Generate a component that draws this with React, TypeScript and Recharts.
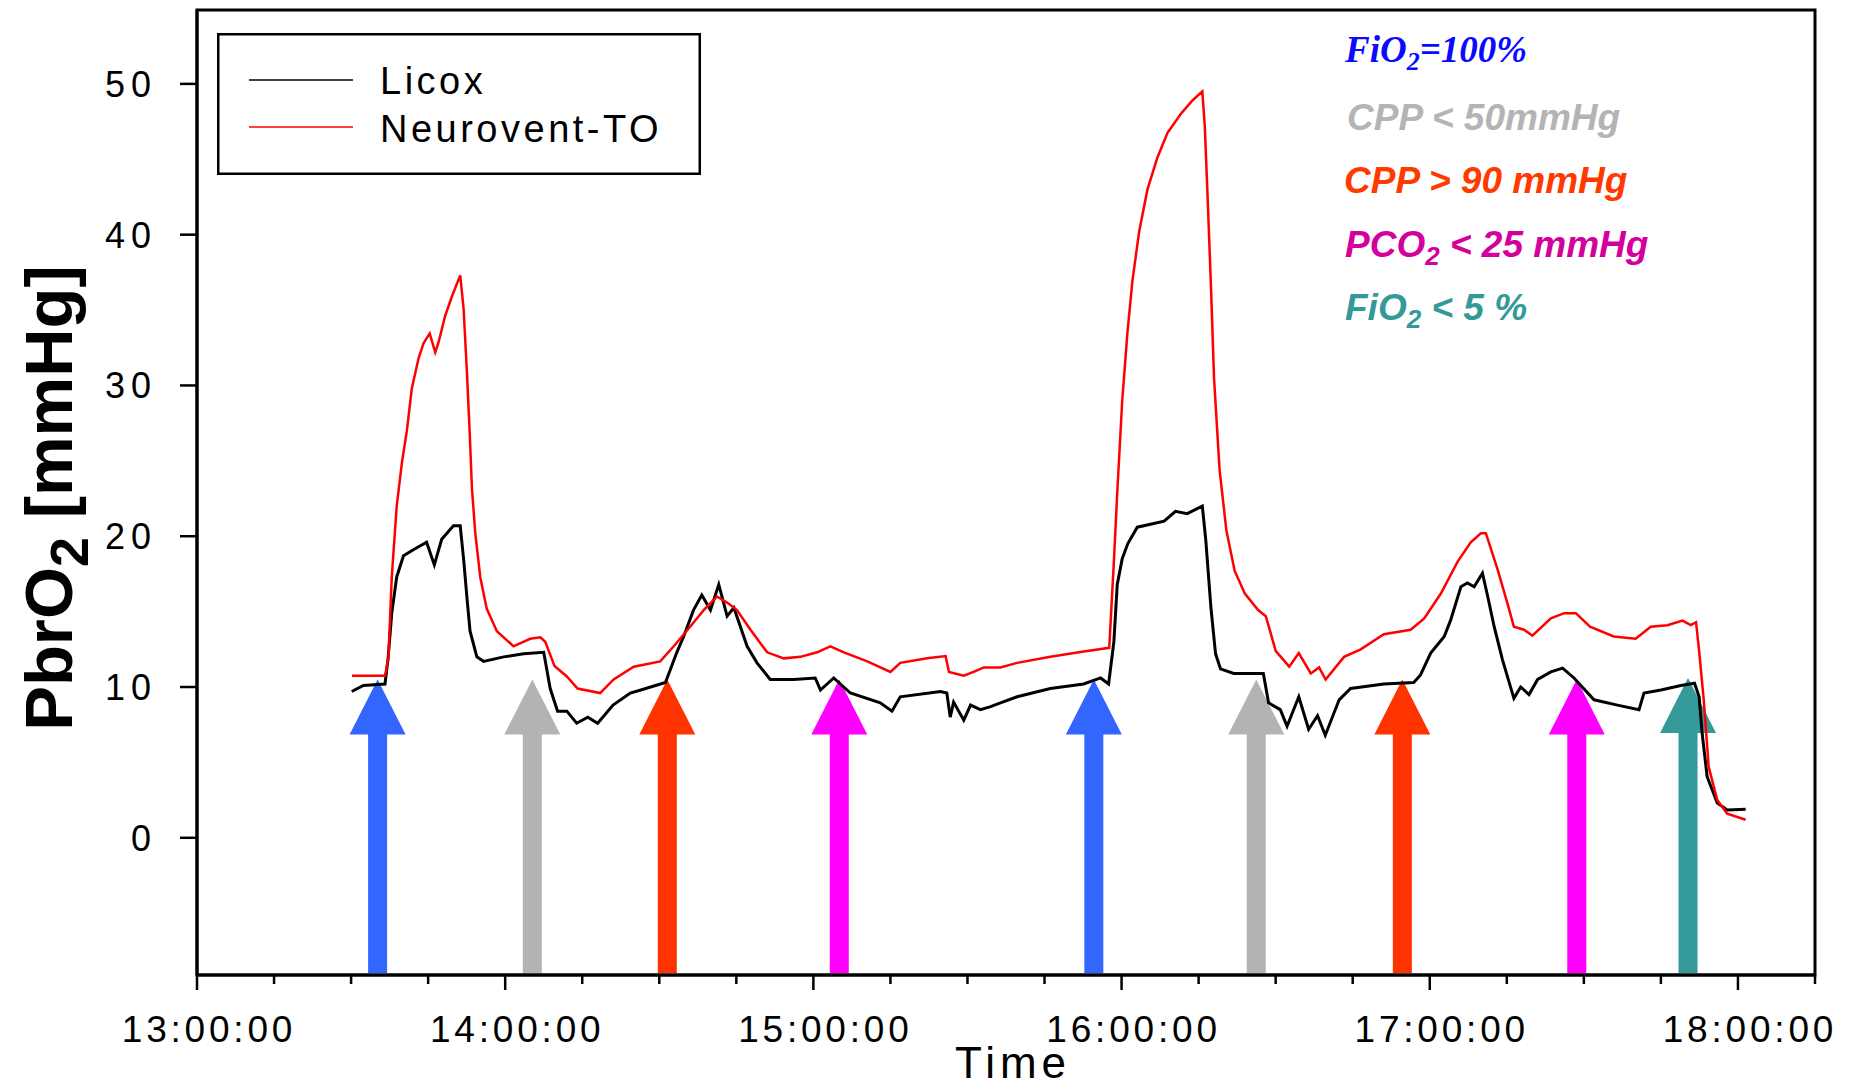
import React from "react";
import { LineChart, Line, XAxis, YAxis, ReferenceLine, ReferenceArea, Legend } from "recharts";

// PbrO2: Licox vs Neurovent-TO, with provocation arrows.
// time = decimal hours (13.5 = 13:30:00), values in mmHg

const licoxTime = [
  13.502, 13.54, 13.61, 13.62, 13.632, 13.648, 13.67, 13.702, 13.745, 13.77, 13.794, 13.832, 13.854, 13.865,
  13.876, 13.886, 13.908, 13.93, 13.995, 14.06, 14.125, 14.146, 14.17, 14.2, 14.232, 14.268, 14.3, 14.35,
  14.406, 14.44, 14.52, 14.557, 14.579, 14.611, 14.638, 14.666, 14.693, 14.72, 14.742, 14.785, 14.817, 14.86,
  14.936, 15.006, 15.023, 15.066, 15.12, 15.217, 15.255, 15.282, 15.412, 15.433, 15.444, 15.455, 15.488, 15.51,
  15.542, 15.575, 15.607, 15.661, 15.769, 15.877, 15.932, 15.958, 15.975, 15.986, 16.002, 16.02, 16.051, 16.094,
  16.138, 16.175, 16.213, 16.262, 16.273, 16.29, 16.305, 16.321, 16.364, 16.46, 16.477, 16.515, 16.537, 16.575,
  16.607, 16.636, 16.661, 16.706, 16.743, 16.851, 16.948, 16.97, 17.003, 17.047, 17.068, 17.101, 17.122, 17.144,
  17.171, 17.187, 17.209, 17.236, 17.273, 17.295, 17.322, 17.35, 17.393, 17.431, 17.468, 17.533, 17.609, 17.679,
  17.695, 17.75, 17.815, 17.859, 17.874, 17.884, 17.9, 17.933, 17.965, 18.025,
];
const licoxValue = [
  9.7, 10.1, 10.2, 11.9, 14.9, 17.3, 18.7, 19.1, 19.6, 18.1, 19.8, 20.7, 20.7, 18.5,
  15.9, 13.7, 12.0, 11.7, 12.0, 12.2, 12.3, 9.9, 8.4, 8.4, 7.6, 8.0, 7.6, 8.8,
  9.6, 9.8, 10.3, 12.3, 13.35, 15.1, 16.1, 15.1, 16.8, 14.7, 15.25, 12.7, 11.6, 10.5,
  10.5, 10.6, 9.8, 10.6, 9.6, 8.95, 8.4, 9.35, 9.7, 9.6, 8.0, 9.0, 7.8, 8.8,
  8.5, 8.7, 8.95, 9.35, 9.9, 10.2, 10.6, 10.2, 13.0, 16.8, 18.5, 19.5, 20.6, 20.8,
  21.0, 21.65, 21.5, 22.0, 19.8, 15.25, 12.2, 11.2, 10.9, 10.9, 8.95, 8.5, 7.4, 9.35,
  7.2, 8.1, 6.8, 9.15, 9.9, 10.2, 10.3, 10.8, 12.25, 13.35, 14.45, 16.65, 16.9, 16.65,
  17.55, 16.1, 14.0, 11.8, 9.25, 10.0, 9.5, 10.5, 11.0, 11.25, 10.6, 9.15, 8.8, 8.5,
  9.6, 9.8, 10.1, 10.25, 9.35, 6.9, 4.05, 2.3, 1.85, 1.9,
];

const neuroTime = [
  13.503, 13.61, 13.621, 13.632, 13.648, 13.665, 13.681, 13.697, 13.719, 13.735, 13.755, 13.773, 13.783, 13.805,
  13.827, 13.854, 13.865, 13.876, 13.885, 13.892, 13.903, 13.919, 13.94, 13.973, 14.027, 14.081, 14.114, 14.13,
  14.16, 14.2, 14.235, 14.308, 14.352, 14.417, 14.503, 14.547, 14.6, 14.644, 14.687, 14.72, 14.752, 14.796,
  14.85, 14.904, 14.958, 15.012, 15.055, 15.099, 15.175, 15.25, 15.282, 15.369, 15.429, 15.44, 15.488, 15.52,
  15.553, 15.607, 15.661, 15.769, 15.877, 15.96, 15.975, 15.986, 16.002, 16.019, 16.035, 16.057, 16.084, 16.116,
  16.149, 16.192, 16.23, 16.262, 16.27, 16.279, 16.29, 16.3, 16.318, 16.34, 16.367, 16.4, 16.443, 16.468,
  16.5, 16.544, 16.575, 16.614, 16.641, 16.662, 16.722, 16.776, 16.851, 16.938, 16.982, 17.036, 17.09, 17.133,
  17.166, 17.182, 17.22, 17.252, 17.273, 17.306, 17.333, 17.393, 17.436, 17.474, 17.52, 17.597, 17.668, 17.717,
  17.771, 17.82, 17.847, 17.864, 17.874, 17.889, 17.905, 17.933, 17.965, 18.025,
];
const neuroValue = [
  10.75, 10.75, 11.9, 17.3, 22.0, 24.9, 27.0, 29.8, 31.8, 32.8, 33.45, 32.2, 32.8, 34.6,
  35.9, 37.3, 35.1, 30.8, 26.8, 23.2, 20.2, 17.3, 15.2, 13.7, 12.7, 13.2, 13.3, 13.0,
  11.4, 10.7, 9.9, 9.6, 10.5, 11.35, 11.7, 12.7, 14.0, 15.1, 16.0, 15.6, 15.1, 13.8,
  12.3, 11.9, 12.0, 12.3, 12.7, 12.3, 11.7, 11.0, 11.6, 11.9, 12.05, 11.0, 10.75, 11.0,
  11.3, 11.3, 11.6, 12.0, 12.35, 12.6, 18.3, 22.9, 28.95, 33.5, 36.9, 40.2, 43.0, 45.1,
  46.75, 48.0, 48.9, 49.5, 47.2, 42.6, 36.6, 30.5, 24.4, 20.4, 17.7, 16.2, 15.1, 14.7,
  12.4, 11.35, 12.25, 10.9, 11.3, 10.5, 12.0, 12.5, 13.5, 13.8, 14.55, 16.2, 18.3, 19.6,
  20.2, 20.2, 17.8, 15.55, 14.0, 13.8, 13.4, 14.55, 14.9, 14.9, 14.0, 13.35, 13.2, 14.0,
  14.1, 14.4, 14.1, 14.3, 12.4, 9.15, 4.7, 2.5, 1.6, 1.2,
];

// interventions (arrow positions)
const eventTime = [13.586, 14.088, 14.526, 15.084, 15.91, 16.437, 16.911, 17.477, 17.838];
const eventKind = ["fio2High", "cppLow", "cppHigh", "pco2Low", "fio2High", "cppLow", "cppHigh", "pco2Low", "fio2Low"];
const eventTip = [10.5, 10.5, 10.5, 10.5, 10.5, 10.5, 10.5, 10.5, 10.6];

const xTicks = [
  13, 13.25, 13.5, 13.75, 14, 14.25, 14.5, 14.75, 15, 15.25, 15.5, 15.75,
  16, 16.25, 16.5, 16.75, 17, 17.25, 17.5, 17.75, 18, 18.25,
];
const yTicks = [0, 10, 20, 30, 40, 50];
const X_MIN = 13;
const X_MAX = 18.25;
const Y_MIN = -9.1;
const Y_MAX = 54.9;

const arrowColor: Record<string, string> = {
  fio2High: "#3366ff",
  cppLow: "#b3b3b3",
  cppHigh: "#ff3300",
  pco2Low: "#ff00ff",
  fio2Low: "#339999",
};

const FONT = "'Liberation Sans', Arial, Helvetica, sans-serif";
const SERIF = "'Liberation Serif', 'Times New Roman', serif";

const licoxData = licoxTime.map((t, i) => ({ t, v: licoxValue[i] }));
const neuroData = neuroTime.map((t, i) => ({ t, v: neuroValue[i] }));

function XTick({ x, y, payload }: any) {
  const major = Number.isInteger(payload.value);
  return (
    <g>
      <line x1={x} x2={x} y1={y} y2={y + (major ? 15 : 9)} stroke="#000" strokeWidth={2.5} />
      {major && (
        <text x={x + 12} y={y + 67} textAnchor="middle" fontFamily={FONT} fontSize={37} letterSpacing={3.8} fill="#000">
          {`${payload.value}:00:00`}
        </text>
      )}
    </g>
  );
}

function YTick({ x, y, payload }: any) {
  return (
    <g>
      <line x1={x - 17} x2={x} y1={y} y2={y} stroke="#000" strokeWidth={2.5} />
      <text x={x - 40} y={y + 13} textAnchor="end" fontFamily={FONT} fontSize={36} letterSpacing={6} fill="#000">
        {payload.value}
      </text>
    </g>
  );
}

function arrowShape(color: string) {
  return (p: any) => {
    const { x1, y1, y2 } = p;
    const head = 55;
    return (
      <g>
        <rect x={x1 - 9.5} y={y2 + head - 1} width={19} height={y1 - y2 - head - 1} fill={color} />
        <polygon points={`${x1},${y2} ${x1 - 28},${y2 + head} ${x1 + 28},${y2 + head}`} fill={color} />
      </g>
    );
  };
}

function LegendBox({ payload }: any) {
  const items = (payload || []).filter((e: any) => e.value);
  return (
    <svg width={484} height={142} style={{ display: "block" }}>
      <rect x={1.25} y={1.25} width={481.5} height={139.5} fill="#fff" stroke="#000" strokeWidth={2.5} />
      {items.map((e: any, i: number) => (
        <g key={e.value}>
          <line x1={32} x2={136} y1={47 + i * 47} y2={47 + i * 47} stroke={e.color} strokeWidth={1.5} />
          <text x={163} y={61 + i * 48} fontFamily={FONT} fontSize={38} letterSpacing={3.5} fill="#000">
            {e.value}
          </text>
        </g>
      ))}
    </svg>
  );
}

export default function App() {
  return (
    <div style={{ position: "absolute", left: 0, top: 0, width: 1850, height: 1086, background: "#fff" }}>
      <LineChart width={1850} height={1086} margin={{ top: 10, right: 35, left: 0, bottom: 0 }}>
        <XAxis
          type="number"
          dataKey="t"
          domain={[X_MIN, X_MAX]}
          ticks={xTicks}
          interval={0}
          height={111}
          tickSize={0}
          tickMargin={0}
          tick={<XTick />}
          axisLine={{ stroke: "#000", strokeWidth: 3 }}
          allowDataOverflow
        />
        <YAxis
          type="number"
          dataKey="v"
          domain={[Y_MIN, Y_MAX]}
          ticks={yTicks}
          interval={0}
          width={197}
          tickSize={0}
          tickMargin={0}
          tick={<YTick />}
          axisLine={{ stroke: "#000", strokeWidth: 3 }}
          allowDataOverflow
        />
        <ReferenceArea x1={X_MIN} x2={X_MAX} y1={Y_MIN} y2={Y_MAX} fill="none" stroke="#000" strokeWidth={3} ifOverflow="visible" />
        {eventTime.map((t, i) => (
          <ReferenceLine
            key={i}
            segment={[{ x: t, y: Y_MIN }, { x: t, y: eventTip[i] }]}
            shape={arrowShape(arrowColor[eventKind[i]])}
            ifOverflow="visible"
          />
        ))}
        <Line data={licoxData} dataKey="v" name="Licox" stroke="#000" strokeWidth={3} dot={false} activeDot={false} isAnimationActive={false} />
        <Line data={neuroData} dataKey="v" name="Neurovent-TO" stroke="#ff0000" strokeWidth={2.5} dot={false} activeDot={false} isAnimationActive={false} />
        <Legend
          layout="horizontal"
          verticalAlign="middle"
          align="center"
          content={<LegendBox />}
          wrapperStyle={{ top: 33, left: 217, width: 484, height: 142 }}
        />

        {/* axis titles */}
        <text transform="translate(72,498) rotate(-90)" textAnchor="middle" fontFamily={FONT} fontWeight="bold" fontSize={67} fill="#000">
          PbrO<tspan fontSize={54} dy={16}>2</tspan>
          <tspan dy={-16}> [mmHg]</tspan>
        </text>
        <text x={1013} y={1078} textAnchor="middle" fontFamily={FONT} fontSize={44} letterSpacing={5} fill="#000">
          Time
        </text>

        {/* intervention key */}
        <text x={1345} y={62} fontFamily={SERIF} fontWeight="bold" fontStyle="italic" fontSize={37} fill="#0a0aff">
          FiO<tspan fontSize={26} dy={8}>2</tspan>
          <tspan dy={-8}>=100%</tspan>
        </text>
        <text x={1347} y={130} fontFamily={FONT} fontWeight="bold" fontStyle="italic" fontSize={37} fill="#b4b4b4">
          CPP &lt; 50mmHg
        </text>
        <text x={1344} y={193} fontFamily={FONT} fontWeight="bold" fontStyle="italic" fontSize={37} fill="#ff3a00">
          CPP &gt; 90 mmHg
        </text>
        <text x={1345} y={257} fontFamily={FONT} fontWeight="bold" fontStyle="italic" fontSize={37} fill="#d4009c">
          PCO<tspan fontSize={26} dy={8}>2</tspan>
          <tspan dy={-8}> &lt; 25 mmHg</tspan>
        </text>
        <text x={1345} y={320} fontFamily={FONT} fontWeight="bold" fontStyle="italic" fontSize={37} fill="#339999">
          FiO<tspan fontSize={26} dy={8}>2</tspan>
          <tspan dy={-8}> &lt; 5 %</tspan>
        </text>
      </LineChart>
    </div>
  );
}
